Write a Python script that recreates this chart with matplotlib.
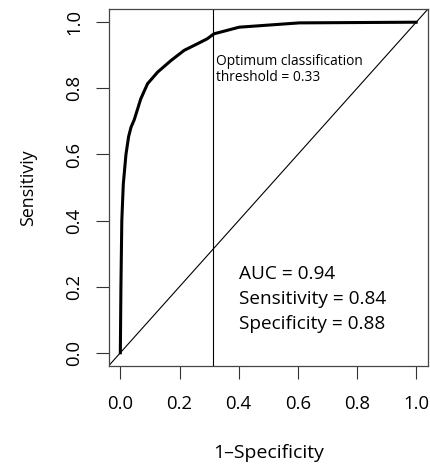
import numpy as np
import matplotlib
matplotlib.use("Agg")
import matplotlib.pyplot as plt

# ROC curve (1-specificity, sensitivity)
fpr = [0.0, 0.002, 0.005, 0.010, 0.019, 0.028, 0.036, 0.047, 0.069, 0.092,
       0.126, 0.171, 0.216, 0.261, 0.294, 0.312, 0.317, 0.402, 0.605, 0.987, 1.0]
tpr = [0.0, 0.20, 0.40, 0.51, 0.60, 0.654, 0.682, 0.705, 0.768, 0.814,
       0.849, 0.884, 0.915, 0.935, 0.950, 0.962, 0.965, 0.985, 0.998, 1.0, 1.0]
threshold_x = 0.312
ticks = [0.0, 0.2, 0.4, 0.6, 0.8, 1.0]
tick_labels = ["0.0", "0.2", "0.4", "0.6", "0.8", "1.0"]

plt.rcParams['font.family'] = ['Open Sans', 'DejaVu Sans']

fig = plt.figure(figsize=(4.30, 4.67), dpi=100)
ax = fig.add_axes([108.5 / 430, 1 - 366 / 467, 319.5 / 430, 357 / 467])

ax.plot(fpr, tpr, color='black', lw=2.2, solid_joinstyle='round')
ax.axline((0, 0), (1, 1), color='black', lw=0.8)
ax.axvline(threshold_x, color='black', lw=0.8)

ax.set_xlim(-0.04, 1.04)
ax.set_ylim(-0.04, 1.04)
ax.set_xticks(ticks)
ax.set_xticklabels(tick_labels)
ax.set_yticks(ticks)
ax.set_yticklabels(tick_labels, rotation=90, va='center')
ax.tick_params(direction='out', length=9.2, width=0.8, color='#333333',
               labelsize=13.3)
ax.tick_params(axis='x', pad=12)
ax.tick_params(axis='y', pad=9)
for s in ax.spines.values():
    s.set_color('#444444')
    s.set_linewidth(0.9)

ax.set_xlabel("1–Specificity", fontsize=14, labelpad=22)
ax.set_ylabel("Sensitiviy", fontsize=12.8, labelpad=20)

ax.text(threshold_x + 0.012, 0.905, "Optimum classification\nthreshold = 0.33",
        fontsize=9.9, va='top', ha='left', linespacing=1.16)
ax.text(0.40, 0.265, "AUC = 0.94\nSensitivity = 0.84\nSpecificity = 0.88",
        fontsize=13.7, va='top', ha='left', linespacing=1.5)

fig.savefig("out.png", dpi=100)
